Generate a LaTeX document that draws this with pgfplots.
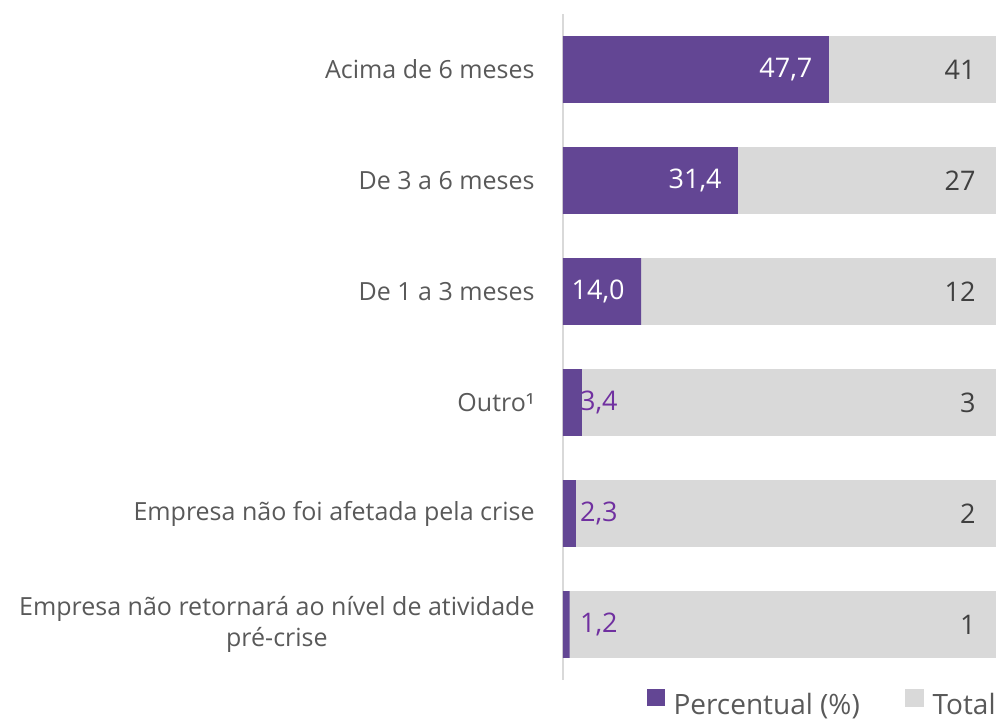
\documentclass[border=0pt]{standalone}
\usepackage{fontspec}
\setmainfont{Open Sans}
\usepackage{pgfplots}
\pgfplotsset{compat=1.18}
\definecolor{roxo}{HTML}{634694}
\definecolor{cinza}{HTML}{D9D9D9}
\definecolor{rotulo}{HTML}{595959}
\definecolor{numtot}{HTML}{404040}
\definecolor{roxotxt}{HTML}{7030A0}

\begin{document}
\begin{tikzpicture}
\begin{axis}[
  at={(281.5pt,20.5pt)}, anchor=south west,
  scale only axis,
  width=216.5pt, height=333pt,
  xmin=0, xmax=77.7,
  ymin=-0.5, ymax=5.5,
  axis x line=none,
  axis y line=left,
  axis line style={-, draw=cinza, line width=1pt},
  ytick={0,...,5},
  yticklabels={{Empresa não retornará ao nível de atividade\\pré-crise}, Empresa não foi afetada pela crise, Outro¹, De 1 a 3 meses, De 3 a 6 meses, Acima de 6 meses},
  yticklabel style={align=center, text=rotulo, inner sep=0pt, xshift=-14pt, font=\fontsize{12.5}{15.5}\selectfont},
  major tick length=0pt,
  legend style={draw=none, fill=none, at={(1,0)}, anchor=south east, yshift=-19pt,
    legend columns=2, font=\fontsize{14}{16}\selectfont, text=rotulo,
    nodes={inner sep=0pt}, inner sep=0pt,
    /tikz/every odd column/.append style={column sep=4.5pt},
    /tikz/every even column/.append style={column sep=22.5pt}},
]
% barras de fundo (Total)
\addplot[forget plot, xbar, bar shift=0pt, bar width=0.6, fill=cinza, draw=none,
  point meta=explicit symbolic, nodes near coords,
  nodes near coords style={anchor=east, xshift=-10pt, inner sep=0pt, text=numtot, font=\fontsize{13.5}{16}\selectfont}]
  coordinates {(77.7,0) [1] (77.7,1) [2] (77.7,2) [3] (77.7,3) [12] (77.7,4) [27] (77.7,5) [41]};
% percentual, barras largas
\addplot[xbar, bar shift=0pt, bar width=0.6, fill=roxo, draw=none,
  point meta=explicit symbolic, nodes near coords,
  nodes near coords style={anchor=east, xshift=-8pt, inner sep=0pt, text=white, font=\fontsize{13.5}{16}\selectfont},
  legend image code/.code={\fill[roxo] (0pt,-0.5pt) rectangle (9pt,8pt);}]
  coordinates {(14.0,3) [14,0] (31.4,4) [31,4] (47.7,5) [47,7]};
\addlegendentry{Percentual (\%)}
% percentual, barras curtas
\addplot[forget plot, xbar, bar shift=0pt, bar width=0.6, fill=roxo, draw=none]
  coordinates {(1.2,0) (2.3,1) (3.4,2)};
\addplot[forget plot, draw=none, mark=none,
  point meta=explicit symbolic, nodes near coords,
  nodes near coords style={anchor=west, inner sep=0pt, text=roxotxt, font=\fontsize{13.5}{16}\selectfont}]
  coordinates {(3.0,0) [1,2] (3.0,1) [2,3] (3.0,2) [3,4]};
\addlegendimage{legend image code/.code={\fill[cinza] (0pt,-0.5pt) rectangle (9pt,8pt);}}
\addlegendentry{Total}
\end{axis}
\pgfresetboundingbox
\useasboundingbox (0,0) rectangle (498pt,360.5pt);
\end{tikzpicture}
\end{document}
